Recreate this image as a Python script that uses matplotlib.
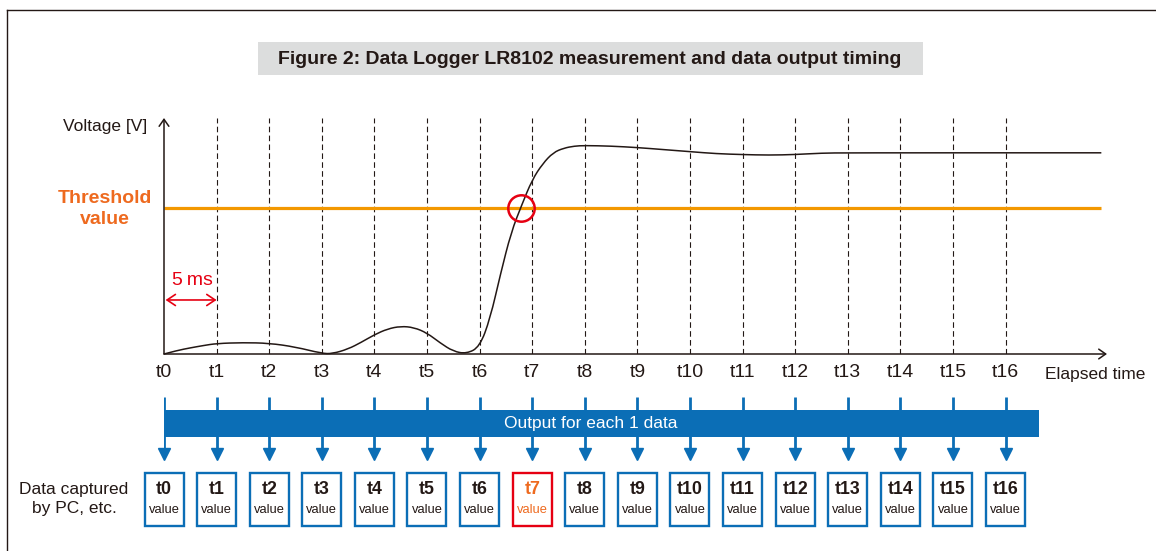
import numpy as np
import matplotlib
matplotlib.use("Agg")
import matplotlib.pyplot as plt
import matplotlib.patches as patches
from matplotlib.lines import Line2D
from matplotlib.path import Path

plt.rcParams['font.family'] = ['Liberation Sans', 'DejaVu Sans']

TITLE = "Figure 2: Data Logger LR8102 measurement and data output timing"

time_ms = [0, 1.25, 2.5, 3.75, 5, 7.5, 10, 12.5, 15, 16, 17.5, 18.75, 20, 21.25,
           22.5, 23.75, 25, 26.25, 27.5, 28.75, 30, 31, 32, 33, 34, 35, 36, 37,
           38, 39, 40, 42.5, 45, 47.5, 50, 52.5, 55, 57.5, 60, 62.5, 65, 89.1]
voltage = [0.0, 0.12, 0.21, 0.29, 0.36, 0.39, 0.37, 0.24, 0.02, 0.01, 0.17, 0.40,
           0.66, 0.86, 0.95, 0.91, 0.72, 0.38, 0.09, 0.01, 0.24, 1.21, 2.76, 4.17,
           5.10, 5.97, 6.52, 6.90, 7.05, 7.12, 7.14, 7.12, 7.07, 7.00, 6.93, 6.86,
           6.83, 6.81, 6.83, 6.88, 6.89, 6.89]
threshold = 5.0

# Sampling every 5 ms
sample_times = list(range(0, 85, 5))
sample_labels = [f"t{i}" for i in range(len(sample_times))]
captured = 7  # first sample above threshold

INK = '#231815'
ORANGE = '#F39800'
RED = '#E60012'
TXT_ORANGE = '#EE6A1F'
BLUE = '#0B6EB6'

W, H = 1156, 551
PX_PER_MS = 10.52
PX_PER_V = 29.2


def fx(px):
    return px / W


def fy(py):
    return 1 - py / H


def smooth_path(xs, ys):
    # quadratic bezier through the midpoints, measured points act as control points
    verts = [(xs[0], ys[0])]
    codes = [Path.MOVETO]
    for k in range(1, len(xs) - 1):
        mid = ((xs[k] + xs[k + 1]) / 2, (ys[k] + ys[k + 1]) / 2)
        verts += [(xs[k], ys[k]), mid]
        codes += [Path.CURVE3, Path.CURVE3]
    verts.append((xs[-1], ys[-1]))
    codes.append(Path.LINETO)
    return Path(verts, codes)


fig = plt.figure(figsize=(W / 100, H / 100), dpi=100)

# Outer frame (only top and left edges are visible)
fig.add_artist(Line2D([fx(7), fx(7)], [fy(10), 0], color=INK, lw=1.0))
fig.add_artist(Line2D([fx(7), 1], [fy(10), fy(10)], color=INK, lw=1.0))

# Title in grey box
fig.add_artist(patches.Rectangle((fx(258), fy(75)), fx(923) - fx(258), fy(42) - fy(75),
                                 transform=fig.transFigure, facecolor='#DCDDDD',
                                 edgecolor='none'))
fig.text(fx(590), fy(59), TITLE, ha='center', va='center', fontsize=14,
         fontweight='bold', color=INK)

# Chart area
ax = fig.add_axes([fx(164), fy(354), fx(1112) - fx(164), fy(117) - fy(354)])
ax.set_xlim(0, (1112 - 164) / PX_PER_MS)
ax.set_ylim(0, (354 - 117) / PX_PER_V)
ymax = (354 - 118) / PX_PER_V
for s in ax.spines.values():
    s.set_visible(False)
ax.set_yticks([])
ax.set_xticks(sample_times, sample_labels)
ax.tick_params(axis='x', length=0, pad=7, labelsize=14, labelcolor=INK)

arrow_kw = dict(arrowstyle='->,head_length=0.5,head_width=0.35', lw=1.1, color=INK,
                shrinkA=0, shrinkB=0)
ax.annotate('', xy=(0, ymax), xytext=(0, 0), arrowprops=arrow_kw, annotation_clip=False)
ax.annotate('', xy=((1107 - 164) / PX_PER_MS, 0), xytext=(0, 0), arrowprops=arrow_kw,
            annotation_clip=False)

ax.vlines(sample_times[1:], 0, ymax, colors=INK, lw=0.8, linestyles=(0, (5, 3)), zorder=1)
ax.hlines(threshold, 0, (1101 - 164) / PX_PER_MS, color=ORANGE, lw=2.3, zorder=2)
ax.add_patch(patches.PathPatch(smooth_path(time_ms, voltage), facecolor='none',
                               edgecolor=INK, lw=1.1, zorder=3, clip_on=False))

# where the waveform first crosses the threshold
v = np.array(voltage)
i = int(np.argmax(v >= threshold)) - 1
t_cross = time_ms[i] + (threshold - v[i]) / (v[i + 1] - v[i]) * (time_ms[i + 1] - time_ms[i])
ax.plot(t_cross, threshold, 'o', ms=19, mfc='none', mec=RED, mew=1.8, zorder=4)

# sampling interval marker
ax.annotate('', xy=(sample_times[1], 1.85), xytext=(0.15, 1.85),
            arrowprops=dict(arrowstyle='<->,head_length=0.6,head_width=0.4', color=RED,
                            lw=1.2, shrinkA=0, shrinkB=0))
ax.text(sample_times[1] / 2 + 0.2, 2.52, '5\u2009ms', color=RED, fontsize=14,
        ha='center', va='center')

fig.text(fx(147), fy(126), 'Voltage [V]', ha='right', va='center', fontsize=12.5, color=INK)
fig.text(fx(105), fy(209), 'Threshold\nvalue', ha='center', va='center', fontsize=14,
         fontweight='bold', color=TXT_ORANGE, linespacing=1.25)
fig.text(fx(1045), fy(374), 'Elapsed time', ha='left', va='center', fontsize=12.5, color=INK)

# Output / capture diagram below the chart
ax2 = fig.add_axes([fx(164), 0, fx(1112) - fx(164), fy(390)])
ax2.set_xlim(ax.get_xlim())
ax2.set_ylim(H, 390)
ax2.axis('off')

bar_end = sample_times[-1] + 3.2
ax2.add_patch(patches.Rectangle((0, 410), bar_end, 27, facecolor=BLUE, edgecolor='none',
                                zorder=2, clip_on=False))
ax2.text(40.6, 423.5, 'Output for each 1 data', color='white', fontsize=12.5,
         ha='center', va='center', zorder=3)
ax2.vlines(sample_times, 397, 449, colors=BLUE, lw=2, zorder=1)
ax2.plot(sample_times, [454] * len(sample_times), 'v', ms=8.6, color=BLUE, zorder=3,
         clip_on=False)

box_w = 39 / PX_PER_MS
for k, t in enumerate(sample_times):
    edge = RED if k == captured else BLUE
    tc = TXT_ORANGE if k == captured else INK
    ax2.add_patch(patches.Rectangle((t - box_w / 2, 473), box_w, 53, facecolor='white',
                                    edgecolor=edge, lw=1.7, clip_on=False, zorder=2))
    ax2.text(t, 489.5, sample_labels[k], ha='center', va='center', fontsize=12.8,
             fontweight='bold', color=tc, zorder=3)
    ax2.text(t, 510, 'value', ha='center', va='center', fontsize=9.3, color=tc, zorder=3)

fig.text(fx(74), fy(499), 'Data captured\nby PC, etc.', ha='center', va='center',
         fontsize=12.5, color=INK, linespacing=1.27)

fig.savefig('out.png', dpi=100, facecolor='white')
